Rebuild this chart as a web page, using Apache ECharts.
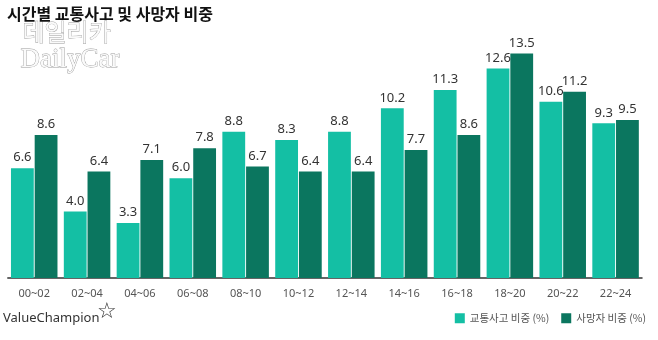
<!DOCTYPE html>
<html><head><meta charset="utf-8">
<script src="https://cdn.jsdelivr.net/npm/echarts@6/dist/echarts.min.js"></script>
<style>html,body{margin:0;padding:0;background:#fff}#c{width:658px;height:340px}</style>
</head><body><div id="c"></div>
<script>
const categories = ['00~02','02~04','04~06','06~08','08~10','10~12','12~14','14~16','16~18','18~20','20~22','22~24'];
const accidentShare = [6.6, 4.0, 3.3, 6.0, 8.8, 8.3, 8.8, 10.2, 11.3, 12.6, 10.6, 9.3];
const deathShare = [8.6, 6.4, 7.1, 7.8, 6.7, 6.4, 6.4, 7.7, 8.6, 13.5, 11.2, 9.5];
const seriesNames = ['교통사고 비중 (%)', '사망자 비중 (%)'];
const titleText = '시간별 교통사고 및 사망자 비중';

const chart = echarts.init(document.getElementById('c'));
const labelCfg = {
  show: true, position: 'top', distance: 4,
  color: '#333', fontSize: 13, fontFamily: 'Noto Sans',
  formatter: p => p.value.toFixed(1)
};
chart.setOption({
  backgroundColor: '#fff',
  animation: false,
  title: {
    text: titleText, left: 2, top: 1,
    textStyle: { fontFamily: 'Noto Sans CJK KR', fontWeight: 'bold', fontSize: 16, color: '#111' }
  },
  legend: {
    right: 7, top: 308, icon: 'rect', itemWidth: 10, itemHeight: 10, itemGap: 12,
    textStyle: { fontFamily: 'Noto Sans CJK KR', fontSize: 10.5, color: '#555' },
    data: seriesNames
  },
  grid: { left: 7.8, right: 16, top: 28.5, height: 249.5 },
  xAxis: {
    type: 'category', data: categories,
    axisLine: { lineStyle: { color: '#333', width: 1.5 } },
    axisTick: { show: false },
    axisLabel: { color: '#555', fontSize: 11, fontFamily: 'Noto Sans', margin: 10 }
  },
  yAxis: { type: 'value', min: 0, max: 15, show: false, splitLine: { show: false } },
  series: [
    { name: seriesNames[0], type: 'bar', data: accidentShare, barGap: '4%', barCategoryGap: '12%',
      itemStyle: { color: '#14BFA4' }, label: labelCfg },
    { name: seriesNames[1], type: 'bar', data: deathShare,
      itemStyle: { color: '#0B765F' }, label: labelCfg }
  ],
  graphic: [
    { type: 'text', left: 22, top: 19, style: { text: '데일리카', fontFamily: 'Noto Sans CJK KR', fontSize: 24, fill: '#fafafa', stroke: '#9a9a9a', lineWidth: 0.8 } },
    { type: 'text', left: 20, top: 46, style: { text: 'DailyCar', fontFamily: 'Liberation Serif', fontSize: 27, fill: '#fafafa', stroke: '#9a9a9a', lineWidth: 0.8 } },
    { type: 'text', left: 3, top: 312, style: { text: 'ValueChampion', fontFamily: 'Noto Sans', fontSize: 13, fill: '#333' } },
    { type: 'text', left: 97, top: 301, style: { text: '☆', fontFamily: 'DejaVu Sans', fontSize: 22, fill: '#333' } }
  ]
});
</script></body></html>
